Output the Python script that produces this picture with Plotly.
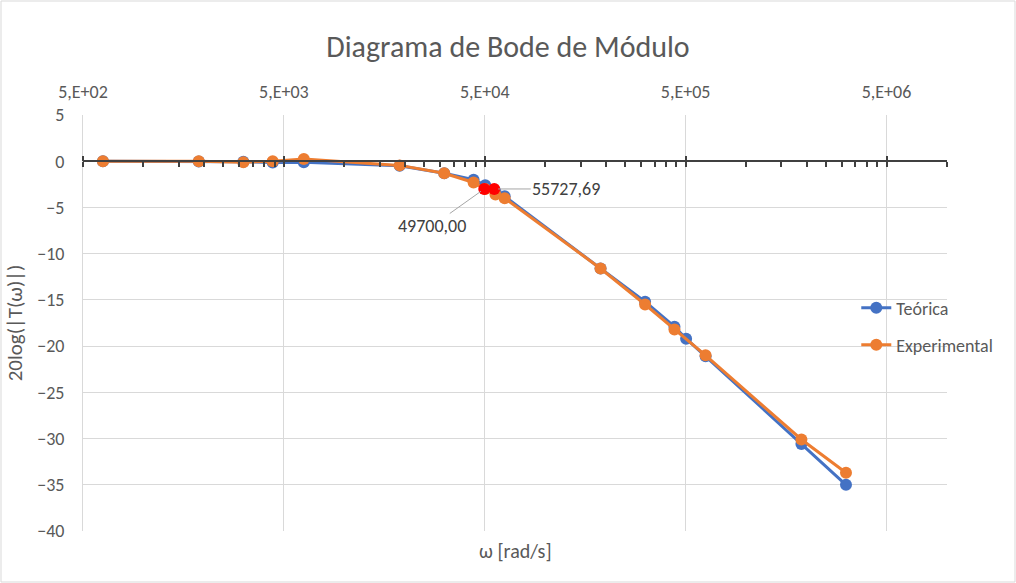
import math
import plotly.graph_objects as go

# omega in rad/s, module in dB
omega_teo = [628.3, 1885, 3142, 4398, 6283, 18850, 31416, 43982, 50265, 56549,
             62832, 188496, 314159, 439823, 502655, 628319, 1884956, 3141593]
db_teo = [0.0, -0.02, -0.05, -0.15, -0.12, -0.5, -1.3, -2.0, -2.6, -3.3,
          -3.8, -11.6, -15.2, -17.9, -19.2, -21.1, -30.6, -35.0]

omega_exp = [628.3, 1885, 3142, 4398, 6283, 18850, 31416, 43982, 50265, 56549,
             62832, 188496, 314159, 439823, 628319, 1884956, 3141593]
db_exp = [0.0, 0.0, -0.1, 0.0, 0.25, -0.45, -1.3, -2.3, -3.0, -3.6,
          -4.0, -11.6, -15.5, -18.2, -21.0, -30.1, -33.7]

# -3 dB cut-off points
omega_cut = [49700.00, 55727.69]
db_cut = [-3.0, -3.0]

major_ticks = [5e2, 5e3, 5e4, 5e5, 5e6]
major_labels = ["5,E+02", "5,E+03", "5,E+04", "5,E+05", "5,E+06"]
y_ticks = [5, 0, -5, -10, -15, -20, -25, -30, -35, -40]

FONT = "Calibri, Carlito, Lato, sans-serif"
GREY = "#595959"
BLUE = "#4472C4"
ORANGE = "#ED7D31"

x_range = [math.log10(500), math.log10(1e7)]
y_range = [-40, 5]
minor_ticks = [m * k for m in major_ticks for k in range(2, 10) if m * k <= 1e7]

fig = go.Figure()

fig.add_trace(go.Scatter(
    x=omega_teo, y=db_teo, name="Teórica", mode="lines+markers",
    line=dict(color=BLUE, width=3), marker=dict(size=12, color=BLUE),
    legend="legend"
))
fig.add_trace(go.Scatter(
    x=omega_exp, y=db_exp, name="Experimental", mode="lines+markers",
    line=dict(color=ORANGE, width=3), marker=dict(size=12, color=ORANGE),
    legend="legend2"
))
fig.add_trace(go.Scatter(
    x=omega_cut, y=db_cut, mode="markers", showlegend=False,
    marker=dict(size=12, color="red")
))

# invisible traces so the overlay axes (the axis line at y=0) get drawn
for ax in ["x2", "x3"]:
    fig.add_trace(go.Scatter(x=[1000], y=[100], xaxis=ax, yaxis="y", mode="markers",
                             marker=dict(opacity=0), showlegend=False, hoverinfo="skip"))

# data labels for the cut-off points
offsets = [(-52, 37), (72, 0)]
for w, v, (dx, dy) in zip(omega_cut, db_cut, offsets):
    fig.add_annotation(
        x=math.log10(w), y=v, xref="x", yref="y",
        text=f"{w:.2f}".replace(".", ","),
        showarrow=True, arrowhead=0, arrowwidth=1, arrowcolor="#a6a6a6",
        ax=dx, ay=dy, standoff=4,
        font=dict(family=FONT, size=18, color="#404040")
    )

fig.add_annotation(
    x=0.5, y=0, xref="paper", yref="paper", yanchor="top", yshift=-6,
    text="ω [rad/s]", showarrow=False,
    font=dict(family=FONT, size=20, color=GREY)
)

zero_pos = (0 - y_range[0]) / (y_range[1] - y_range[0])
axis_common = dict(type="log", range=x_range, overlaying="x", anchor="free",
                   position=zero_pos, showgrid=False, showticklabels=False,
                   tickvals=major_ticks, tickcolor="#404040", tickwidth=2, ticklen=5)

fig.update_layout(
    width=1016, height=583,
    margin=dict(l=83, r=69, t=115, b=52),
    paper_bgcolor="white", plot_bgcolor="white",
    font=dict(family=FONT, color=GREY),
    title=dict(text="Diagrama de Bode de Módulo", x=0.5, xanchor="center",
               y=0.92, yanchor="middle", font=dict(family=FONT, size=30, color=GREY)),
    xaxis=dict(type="log", range=x_range, side="top", tickvals=major_ticks,
               ticktext=major_labels, showgrid=True, gridcolor="#d9d9d9", gridwidth=1,
               ticks="", ticklabelstandoff=12, zeroline=False,
               tickfont=dict(family=FONT, size=18, color=GREY)),
    xaxis2=dict(axis_common, side="bottom", ticks="outside", showline=True,
                linecolor="#404040", linewidth=2,
                minor=dict(tickvals=minor_ticks, ticks="outside", ticklen=5,
                           tickcolor="#404040", tickwidth=1.5)),
    xaxis3=dict(axis_common, side="top", ticks="outside", showline=False),
    yaxis=dict(range=y_range, tickvals=y_ticks, showgrid=True, gridcolor="#d9d9d9",
               gridwidth=1, zeroline=False, showline=True, linecolor="#d9d9d9",
               linewidth=1, ticks="", ticklabelstandoff=14,
               tickfont=dict(family=FONT, size=18, color=GREY),
               title=dict(text="20log(|T(ω)|)", standoff=8,
                          font=dict(family=FONT, size=21, color=GREY))),
    legend=dict(x=0.895, y=0.536, xanchor="left", yanchor="middle",
                bgcolor="rgba(0,0,0,0)", font=dict(family=FONT, size=18, color=GREY)),
    legend2=dict(x=0.895, y=0.447, xanchor="left", yanchor="middle",
                 bgcolor="rgba(0,0,0,0)", font=dict(family=FONT, size=18, color=GREY)),
    shapes=[dict(type="rect", xref="paper", yref="paper",
                 x0=-82 / 864, x1=1 + 68 / 864, y0=-51 / 416, y1=1 + 114 / 416,
                 line=dict(color="#d9d9d9", width=1))],
)

# drop the default page margin so the figure sits at the window corner
fig.write_html("out.html", config={"displayModeBar": False},
               post_script="document.body.style.margin='0';")
